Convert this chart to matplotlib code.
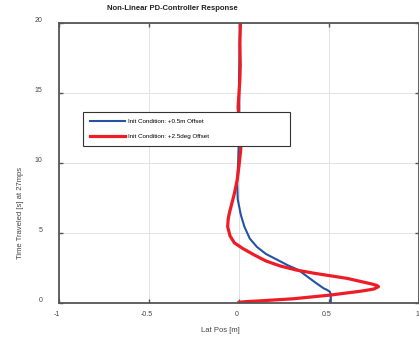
import matplotlib.pyplot as plt
from matplotlib.transforms import ScaledTranslation

plt.rcParams['font.family'] = ['Liberation Sans', 'DejaVu Sans']

# blue: +0.5 m offset (lat pos, time)
blue_x = [0.51, 0.51, 0.505, 0.49, 0.47, 0.42, 0.33, 0.27, 0.215, 0.15, 0.10,
          0.06, 0.03, 0.01, -0.007, -0.01, -0.005, 0.0, 0.002, 0.0, 0.003, 0.005]
blue_t = [0.0, 0.6, 0.8, 0.93, 1.05, 1.5, 2.36, 2.7, 3.07, 3.5, 4.0,
          4.6, 5.45, 6.3, 7.4, 8.6, 10.0, 12.0, 14.0, 16.0, 18.0, 20.0]

# red: +2.5 deg offset
red_x = [0.0, 0.04, 0.10, 0.30, 0.51, 0.68, 0.75, 0.775, 0.765, 0.74, 0.60,
         0.42, 0.32, 0.23, 0.15, 0.085, 0.02, -0.026, -0.05, -0.063, -0.06,
         -0.054, -0.04, -0.026, -0.01, 0.0, 0.01, 0.008, 0.0, -0.005, 0.0,
         0.005, 0.007, 0.005, 0.008]
red_t = [0.05, 0.1, 0.14, 0.3, 0.57, 0.85, 1.0, 1.17, 1.26, 1.35, 1.76,
         2.12, 2.35, 2.64, 3.0, 3.43, 3.9, 4.3, 4.8, 5.45, 6.0,
         6.4, 7.1, 7.8, 8.8, 9.8, 11.0, 12.0, 13.0, 14.0, 15.0,
         16.0, 17.0, 18.5, 20.0]

xticks = [-1, -0.5, 0, 0.5, 1]
yticks = [0, 5, 10, 15, 20]

fig = plt.figure(figsize=(4.19, 3.38), dpi=100)
ax = fig.add_axes([59/419, 35/338, 360/419, 280/338])

ax.plot(blue_x, blue_t, color='#2452a4', lw=1.5, label='Init Condition: +0.5m Offset')
ax.plot(red_x, red_t, color='#ee1c25', lw=2.3, label='Init Condition: +2.5deg Offset')

ax.set_xlim(-1, 1)
ax.set_ylim(0, 20)
ax.set_xticks(xticks)
ax.set_xticklabels(['-1', '-0.5', '0', '0.5', '1'])
ax.set_yticks(yticks)
ax.grid(True, color='#e3e3e3', lw=0.7)
ax.set_axisbelow(True)
ax.tick_params(direction='in', length=3, width=1, color='#555555',
               top=True, right=True, labelsize=5, labelcolor='#444444')
ax.tick_params(axis='y', pad=12)
ax.tick_params(axis='x', pad=6)
for s in ax.spines.values():
    s.set_color('#555555')
    s.set_linewidth(1.3)

off = ScaledTranslation(0, 4/100, fig.dpi_scale_trans)
for lab in ax.get_yticklabels():
    lab.set_transform(lab.get_transform() + off)
offx = ScaledTranslation(-2/100, 0, fig.dpi_scale_trans)
for lab in ax.get_xticklabels():
    lab.set_transform(lab.get_transform() + offx)

leg = ax.legend(loc='upper left', bbox_to_anchor=(0.0667, 0.5536, 0.575, 0.1286),
                mode='expand', fontsize=4.5, handlelength=5.6, handletextpad=0.5,
                borderpad=1.1, labelspacing=1.55, fancybox=False, framealpha=1,
                edgecolor='#333333', borderaxespad=0)
leg.get_frame().set_linewidth(0.8)

fig.text(172/419, 1 - 9/338, 'Non-Linear PD-Controller Response', ha='center',
         va='center', fontsize=5.5, fontweight='bold', color='#222222')
fig.text(220/419, 1 - 330/338, 'Lat Pos [m]', ha='center', va='center',
         fontsize=5.5, color='#444444')
fig.text(20/419, 1 - 213/338, 'Time Traveled [s] at 27mps', ha='center',
         va='center', rotation=90, fontsize=5.5, color='#444444')

fig.savefig('out.png', dpi=100)
